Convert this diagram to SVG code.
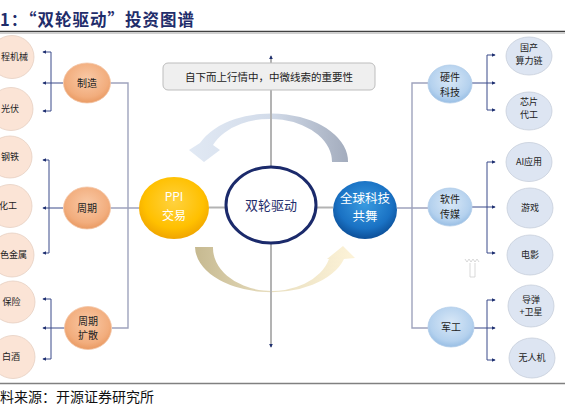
<svg xmlns="http://www.w3.org/2000/svg" width="565" height="409" viewBox="0 0 565 409">
<defs>
<style>
text{font-family:"Noto Sans CJK SC","Noto Sans",sans-serif;text-anchor:middle;fill:#222;}
.t9{font-size:9px;}
.t10{font-size:10px;}
.w{fill:#fff;}
.outL{fill:#fbe4d6;stroke:#e6cfc2;stroke-width:0.8;}
.outR{fill:#dde5f2;stroke:#c6cedb;stroke-width:0.8;}
.midL{fill:url(#gOr);stroke:#f2c4a4;stroke-width:0.8;}
.midR{fill:url(#gBl);stroke:#b3cde8;stroke-width:0.8;}
.br{fill:none;stroke:#3b4a8a;stroke-width:1;}
.mn{fill:none;stroke:#9ea3bd;stroke-width:1.4;}
.ax{fill:none;stroke:#b3b3b3;stroke-width:2;}
</style>
<marker id="ah" viewBox="0 0 6 6" refX="5" refY="3" markerWidth="4" markerHeight="4" markerUnits="userSpaceOnUse" orient="auto-start-reverse"><path d="M0,0 L6,3 L0,6 Z" fill="#1f3070"/></marker>
<radialGradient id="gOr" cx="50%" cy="40%" r="60%"><stop offset="0" stop-color="#f9c9a6"/><stop offset="0.75" stop-color="#f2ad7d"/><stop offset="1" stop-color="#e99a63"/></radialGradient>
<radialGradient id="gBl" cx="50%" cy="40%" r="60%"><stop offset="0" stop-color="#d9e8f7"/><stop offset="0.75" stop-color="#b4d1ee"/><stop offset="1" stop-color="#98bee4"/></radialGradient>
<radialGradient id="gYe" cx="50%" cy="40%" r="60%"><stop offset="0" stop-color="#ffd23f"/><stop offset="0.7" stop-color="#ffc000"/><stop offset="1" stop-color="#f0a500"/></radialGradient>
<radialGradient id="gBu" cx="50%" cy="40%" r="60%"><stop offset="0" stop-color="#3a9be0"/><stop offset="0.7" stop-color="#1a72c4"/><stop offset="1" stop-color="#0c4f98"/></radialGradient>
<linearGradient id="gTop" x1="0" y1="0" x2="1" y2="0"><stop offset="0" stop-color="#e1e9f4"/><stop offset="0.5" stop-color="#d3dcea"/><stop offset="1" stop-color="#a3acbd"/></linearGradient>
<linearGradient id="gBot" x1="0" y1="0" x2="1" y2="0"><stop offset="0" stop-color="#c6b990"/><stop offset="0.5" stop-color="#e9dfc0"/><stop offset="1" stop-color="#fdf3d8"/></linearGradient>
</defs>
<rect width="565" height="409" fill="#fff"/>

<text x="0" y="26" style="font-size:16.5px;font-weight:700;fill:#1f2d6b;text-anchor:start;letter-spacing:1px">1：“双轮驱动”投资图谱</text>
<line x1="0" y1="31.5" x2="565" y2="31.5" stroke="#404040" stroke-width="1.5"/>
<line x1="0" y1="33.5" x2="565" y2="33.5" stroke="#d0d0d0" stroke-width="1"/>
<line x1="0" y1="383.5" x2="565" y2="383.5" stroke="#808080" stroke-width="1.5"/>
<text x="0" y="402" style="font-size:14px;text-anchor:start;fill:#111">料来源：开源证券研究所</text>

<g id="arrows">
<path d="M348,162 A77 48 0 0 0 200,143 L189,150 L204,162 L220,150 L213,145 A62 43 0 0 1 332,162 Z" fill="url(#gTop)"/>
<path d="M195,247 A76 46 0 0 0 344,259 L355,258 L343,246 L327,259 L329,259 A59 43 0 0 1 213,247 Z" fill="url(#gBot)"/>
</g>

<g id="connectors">
<path class="ax" d="M271,56 V347" marker-start="url(#ah)" marker-end="url(#ah)"/>
<path class="ax" d="M209,207.5 H225 M317,207.5 H333"/>
<path class="mn" d="M110,83 H128 V328 H112 M110,208 H139 M397,208 H428 M428,83 H412 V328 H428"/>
<path class="br" d="M43,52 H51 V111 H43" marker-start="url(#ah)" marker-end="url(#ah)"/>
<path class="br" d="M63,83 H43" marker-end="url(#ah)"/>
<path class="br" d="M43,160 H49 V253 H43" marker-start="url(#ah)" marker-end="url(#ah)"/>
<path class="br" d="M63,208 H43" marker-end="url(#ah)"/>
<path class="br" d="M43,299 H51 V359 H43" marker-start="url(#ah)" marker-end="url(#ah)"/>
<path class="br" d="M65,328 H43" marker-end="url(#ah)"/>
<path class="br" d="M495,55 H487 V110 H495" marker-start="url(#ah)" marker-end="url(#ah)"/>
<path class="br" d="M472,83 H495" marker-end="url(#ah)"/>
<path class="br" d="M495,162 H487 V253 H495" marker-start="url(#ah)" marker-end="url(#ah)"/>
<path class="br" d="M472,207 H495" marker-end="url(#ah)"/>
<path class="br" d="M495,300 H487 V360 H495" marker-start="url(#ah)" marker-end="url(#ah)"/>
<path class="br" d="M474,328 H495" marker-end="url(#ah)"/>
</g>

<g id="note"><rect x="163" y="63" width="212" height="27" rx="5" fill="#efefef" stroke="#bdbdbd" stroke-width="1"/><text x="269" y="80.5" style="font-size:10.5px">自下而上行情中，中微线索的重要性</text></g>

<g id="n-gcjx"><ellipse class="outL" cx="12" cy="57" rx="22" ry="21.5"/><text class="t9" x="14.5" y="60">程机械</text></g>
<g id="n-gf"><ellipse class="outL" cx="11" cy="109" rx="22" ry="21.5"/><text class="t9" x="10" y="112">光伏</text></g>
<g id="n-gt"><ellipse class="outL" cx="10" cy="157" rx="22" ry="21"/><text class="t9" x="10" y="160">钢铁</text></g>
<g id="n-hg"><ellipse class="outL" cx="10" cy="206" rx="22" ry="21.5"/><text class="t9" x="8" y="209">化工</text></g>
<g id="n-ysjs"><ellipse class="outL" cx="12" cy="255" rx="22" ry="22"/><text class="t9" x="13.5" y="258">色金属</text></g>
<g id="n-bx"><ellipse class="outL" cx="13" cy="302" rx="22" ry="21"/><text class="t9" x="11.5" y="305">保险</text></g>
<g id="n-bj"><ellipse class="outL" cx="13" cy="357" rx="22" ry="21.5"/><text class="t9" x="11" y="360">白酒</text></g>

<g id="n-zz"><ellipse class="midL" cx="87" cy="83" rx="23.5" ry="20"/><text class="t10" x="87" y="86.5">制造</text></g>
<g id="n-zq"><ellipse class="midL" cx="87" cy="208" rx="23.5" ry="21"/><text class="t10" x="87" y="211.5">周期</text></g>
<g id="n-zqks"><ellipse class="midL" cx="88" cy="328" rx="23.5" ry="21.5"/><text class="t10" x="88" y="324.5">周期</text><text class="t10" x="88" y="339">扩散</text></g>

<g id="n-ppi"><ellipse cx="174" cy="208" rx="35" ry="31" fill="url(#gYe)"/><text class="w" x="174" y="201" style="font-size:12px">PPI</text><text class="w" x="174" y="220" style="font-size:12px">交易</text></g>
<g id="n-slqd"><ellipse cx="271" cy="205" rx="45" ry="38" fill="#fff" stroke="#1b2a6b" stroke-width="3"/><text x="271" y="210" style="font-size:13px;fill:#1f2d6b">双轮驱动</text></g>
<g id="n-qqkj"><ellipse cx="365" cy="210" rx="32" ry="29" fill="url(#gBu)"/><text class="w" x="365" y="203" style="font-size:12.5px">全球科技</text><text class="w" x="365" y="221" style="font-size:12.5px">共舞</text></g>

<g id="n-yjkj"><ellipse class="midR" cx="450" cy="84" rx="22" ry="19"/><text class="t10" x="450" y="80.5">硬件</text><text class="t10" x="450" y="95.5">科技</text></g>
<g id="n-rjcm"><ellipse class="midR" cx="450" cy="207" rx="22" ry="19"/><text class="t10" x="450" y="203">软件</text><text class="t10" x="450" y="218">传媒</text></g>
<g id="n-jg"><ellipse class="midR" cx="451" cy="327" rx="23" ry="20"/><text class="t10" x="451" y="330.5">军工</text></g>

<g id="n-gcslj"><ellipse class="outR" cx="529" cy="56" rx="23" ry="19"/><text class="t9" x="529" y="51">国产</text><text class="t9" x="529" y="64">算力链</text></g>
<g id="n-xpdg"><ellipse class="outR" cx="529" cy="111" rx="23" ry="19"/><text class="t9" x="529" y="105">芯片</text><text class="t9" x="529" y="118">代工</text></g>
<g id="n-aiyy"><ellipse class="outR" cx="529" cy="162" rx="23" ry="19.5"/><text class="t9" x="529" y="165">AI应用</text></g>
<g id="n-yx"><ellipse class="outR" cx="530" cy="208" rx="23" ry="20"/><text class="t9" x="530" y="211">游戏</text></g>
<g id="n-dy"><ellipse class="outR" cx="530" cy="255" rx="23" ry="20"/><text class="t9" x="530" y="258">电影</text></g>
<g id="n-ddwx"><ellipse class="outR" cx="531" cy="306" rx="23" ry="21"/><text class="t9" x="531" y="303">导弹</text><text class="t9" x="531" y="315">+卫星</text></g>
<g id="n-wrj"><ellipse class="outR" cx="532" cy="358" rx="23" ry="20"/><text class="t9" x="532" y="361">无人机</text></g>

<path d="M465,259 L467,262 L469,259 L471,262 L473,259 L475,262 L477,259 L479,262 M470,263 V277 H475 V263" fill="none" stroke="#cfcfcf" stroke-width="0.8"/>
</svg>
